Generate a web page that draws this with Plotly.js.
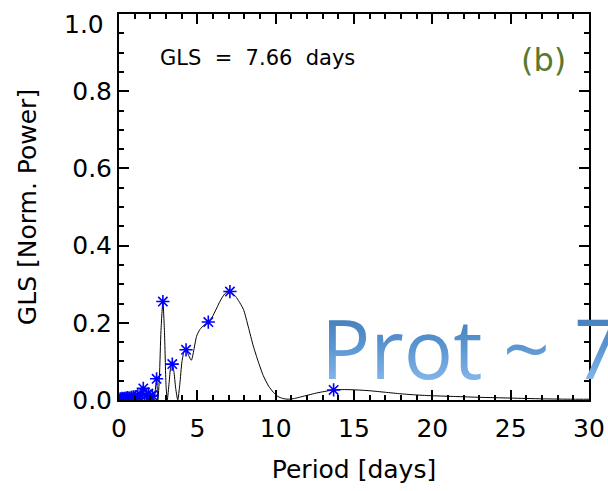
<!DOCTYPE html>
<html>
<head>
<meta charset="utf-8">
<script src="https://cdn.plot.ly/plotly-3.0.1.min.js"></script>
<style>html,body{margin:0;padding:0;background:#fff;}#chart{width:608px;height:491px;}</style>
</head>
<body>
<div id="chart"></div>
<script>
// GLS periodogram curve (period in days, normalized power)
var linePeriod = [0.05,0.08,0.11,0.14,0.17,0.20,0.24,0.28,0.32,0.36,0.40,0.45,0.50,0.55,0.60,0.66,0.72,0.78,0.84,0.91,0.98,1.05,1.12,1.20,1.28,1.36,1.44,1.55,1.64,1.74,1.80,1.87,1.94,2.00,2.06,2.13,2.20,2.30,2.40,2.48,2.58,2.68,2.80,2.90,3.00,3.08,3.20,3.30,3.40,3.50,3.62,3.75,3.88,4.02,4.15,4.28,4.45,4.62,4.78,4.95,5.17,5.45,5.70,5.95,6.20,6.45,6.75,7.08,7.45,7.94,8.25,8.57,8.90,9.21,9.55,9.85,10.15,10.45,10.80,11.20,11.60,12.10,12.60,13.10,13.70,14.40,15.20,16.00,17.00,18.00,19.00,20.00,21.50,23.00,25.00,27.00,29.00,30.00];
var linePower = [0.000,0.003,0.000,0.002,0.000,0.004,0.000,0.003,0.000,0.004,0.000,0.005,0.000,0.006,0.000,0.005,0.000,0.007,0.000,0.008,0.000,0.009,0.000,0.011,0.000,0.013,0.002,0.030,0.002,0.012,0.000,0.016,0.000,0.010,0.000,0.012,0.000,0.020,0.055,0.000,0.060,0.180,0.255,0.180,0.040,0.000,0.045,0.085,0.093,0.075,0.030,0.000,0.040,0.100,0.125,0.130,0.115,0.103,0.130,0.165,0.183,0.195,0.202,0.215,0.235,0.256,0.275,0.281,0.268,0.235,0.190,0.140,0.098,0.063,0.036,0.020,0.009,0.004,0.002,0.004,0.008,0.013,0.018,0.022,0.026,0.027,0.026,0.024,0.020,0.016,0.013,0.011,0.009,0.007,0.005,0.003,0.002,0.002];

// Local peaks marked with asterisks
var peakPeriod = [0.08,0.14,0.20,0.28,0.36,0.45,0.55,0.66,0.78,0.91,1.05,1.20,1.36,1.55,1.74,1.87,2.00,2.13,2.40,2.80,3.40,4.28,5.70,7.08,13.70];
var peakPower  = [0.003,0.002,0.004,0.003,0.004,0.005,0.006,0.005,0.007,0.008,0.009,0.011,0.013,0.030,0.012,0.016,0.010,0.012,0.055,0.255,0.093,0.130,0.202,0.281,0.026];

// Top y tick label (placed slightly inside, as in the original figure)
var yTopLabel = '1.0';

var F = 'DejaVu Sans, sans-serif';

var traces = [
  {x: linePeriod, y: linePower, type: 'scatter', mode: 'lines',
   line: {color: '#000', width: 1, shape: 'spline', smoothing: 0.6}, hoverinfo: 'skip'},
  {x: peakPeriod, y: peakPower, type: 'scatter', mode: 'markers',
   marker: {symbol: 'asterisk-open', size: 11, color: '#0000ff', line: {color: '#0000ff', width: 1.6}}}
];

var layout = {
  width: 608, height: 491,
  margin: {l: 119, r: 19, t: 13, b: 90},
  paper_bgcolor: '#fff', plot_bgcolor: '#fff',
  showlegend: false,
  font: {family: F, color: '#000'},
  xaxis: {
    range: [0, 30], tick0: 0, dtick: 5,
    ticks: 'inside', ticklen: 10, tickwidth: 1.5, tickcolor: 'black',
    minor: {dtick: 1, ticklen: 5, tickwidth: 1.5, tickcolor: 'black', ticks: 'inside'},
    showline: true, linecolor: 'black', linewidth: 2, mirror: 'allticks', showgrid: false, zeroline: false,
    tickfont: {family: F, size: 25, color: '#000'}, ticklabelstandoff: 5,
    automargin: 'height',
    title: {text: 'Period [days]', font: {family: F, size: 25, color: '#000'}, standoff: 18}
  },
  yaxis: {
    range: [0, 1.0], tick0: 0, dtick: 0.2, tickformat: '.1f',
    ticks: 'inside', ticklen: 10, tickwidth: 1.5, tickcolor: 'black',
    minor: {dtick: 0.05, ticklen: 5, tickwidth: 1.5, tickcolor: 'black', ticks: 'inside'},
    showline: true, linecolor: 'black', linewidth: 2, mirror: 'allticks', showgrid: false, zeroline: false,
    tickfont: {family: F, size: 25, color: '#000'},
    automargin: 'width',
    title: {text: 'GLS [Norm. Power]', font: {family: F, size: 25, color: '#000'}, standoff: 28}
  },
  annotations: [
    {xref: 'paper', yref: 'paper', x: (106-119)/470, y: (401-24)/388, xanchor: 'right', yanchor: 'middle',
     text: yTopLabel, showarrow: false, font: {family: F, size: 25, color: '#000'}},
    {xref: 'paper', yref: 'paper', x: (158-119)/470, y: (401-57)/388, xanchor: 'left', yanchor: 'middle',
     text: 'GLS  =  7.66  days', showarrow: false, font: {family: F, size: 21, color: '#000'}},
    {xref: 'paper', yref: 'paper', x: (568-119)/470, y: (401-59)/388, xanchor: 'right', yanchor: 'middle',
     text: '(b)', showarrow: false, font: {family: F, size: 32, color: '#5b7830'}},
    {xref: 'paper', yref: 'paper', x: (319-119)/470, y: (401-348)/388, xanchor: 'left', yanchor: 'middle',
     text: 'Prot', showarrow: false, font: {family: 'Open Sans, sans-serif', size: 82, color: '#4f8ccc'}},
    {xref: 'paper', yref: 'paper', x: (501-119)/470, y: (401-348)/388, xanchor: 'left', yanchor: 'middle',
     text: '~', showarrow: false, font: {family: 'Open Sans, sans-serif', size: 82, color: '#4f8ccc'}},
    {xref: 'paper', yref: 'paper', x: (572-119)/470, y: (401-348)/388, xanchor: 'left', yanchor: 'middle',
     text: '7', showarrow: false, font: {family: 'Open Sans, sans-serif', size: 82, color: '#4f8ccc'}}
  ]
};

Plotly.newPlot('chart', traces, layout, {displayModeBar: false, responsive: false}).then(function(gd){
  var svg = gd.querySelector('svg.main-svg');
  var ns = 'http://www.w3.org/2000/svg';
  var defs = svg.querySelector('defs') || svg.insertBefore(document.createElementNS(ns,'defs'), svg.firstChild);
  var g = document.createElementNS(ns, 'linearGradient');
  g.setAttribute('id', 'protGrad'); g.setAttribute('x1','0'); g.setAttribute('y1','0'); g.setAttribute('x2','0'); g.setAttribute('y2','1');
  [['0','#336ca8'],['0.5','#5b96d2'],['0.85','#8abaea']].forEach(function(s){
    var st = document.createElementNS(ns,'stop'); st.setAttribute('offset', s[0]); st.setAttribute('stop-color', s[1]); g.appendChild(st);
  });
  defs.appendChild(g);
  gd.querySelectorAll('.annotation-text').forEach(function(t){
    var s = t.textContent;
    if (s === 'Prot' || s === '~' || s === '7') { t.style.fill = 'url(#protGrad)'; }
  });
});
</script>
</body>
</html>
